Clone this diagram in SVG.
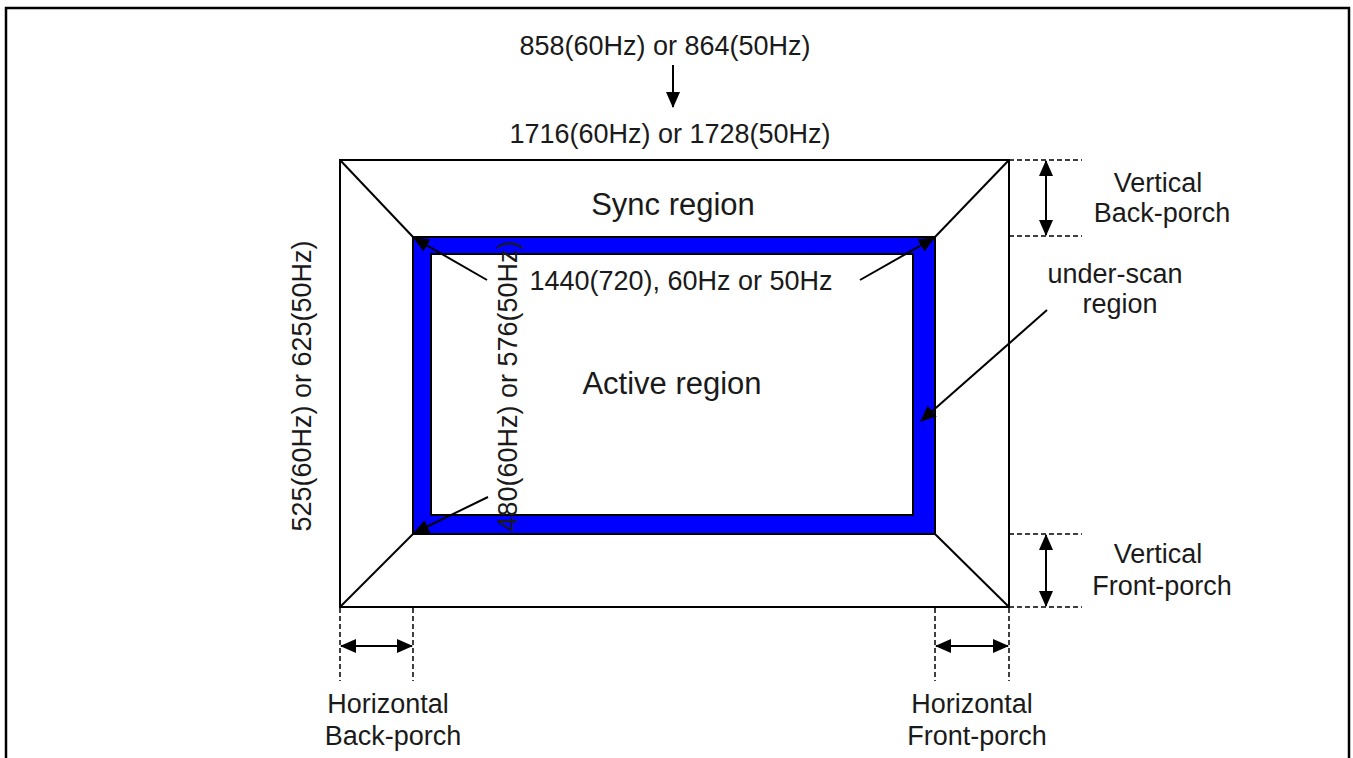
<svg xmlns="http://www.w3.org/2000/svg" width="1353" height="758" viewBox="0 0 1353 758">
<style>
text{font-family:"Liberation Sans",Arial,sans-serif;fill:#1a1a1a;text-anchor:middle}
.lbl{font-size:27px}
.big{font-size:31px}
.ln{stroke:#000;stroke-width:2;fill:none}
.dash{stroke:#000;stroke-width:1.5;stroke-dasharray:5,3;fill:none}
.arr{stroke:#000;stroke-width:2;fill:none;marker-end:url(#ah)}
.dbl{stroke:#000;stroke-width:2;fill:none;marker-start:url(#ah);marker-end:url(#ah)}
</style>
<defs>
<marker id="ah" viewBox="0 0 16 14" refX="15" refY="7" markerWidth="16" markerHeight="14" markerUnits="userSpaceOnUse" orient="auto-start-reverse">
<path d="M0,0 L16,7 L0,14 z" fill="#000"/>
</marker>
</defs>
<rect width="1353" height="758" fill="#fff"/>
<path d="M6,760 V8 H1349 V760" stroke="#000" stroke-width="2.5" fill="none"/>

<g id="frame">
<rect x="340" y="160" width="669" height="447" fill="#fff" stroke="#000" stroke-width="2"/>
<line class="ln" x1="340" y1="160" x2="413" y2="237"/>
<line class="ln" x1="1009" y1="160" x2="935" y2="237"/>
<line class="ln" x1="340" y1="607" x2="413" y2="534"/>
<line class="ln" x1="1009" y1="607" x2="935" y2="534"/>
</g>

<g id="underscan">
<path d="M413,237 H935 V534 H413 Z M431,254 V515 H913 V254 Z" fill="#0000ff" fill-rule="evenodd" stroke="#000" stroke-width="2"/>
</g>

<g id="dimension-lines">
<line class="dash" x1="1009" y1="160" x2="1082" y2="160"/>
<line class="dash" x1="1009" y1="236" x2="1082" y2="236"/>
<line class="dash" x1="1009" y1="534" x2="1082" y2="534"/>
<line class="dash" x1="1009" y1="607" x2="1082" y2="607"/>
<line class="dash" x1="340" y1="608" x2="340" y2="681"/>
<line class="dash" x1="413" y1="608" x2="413" y2="681"/>
<line class="dash" x1="935" y1="608" x2="935" y2="681"/>
<line class="dash" x1="1009" y1="608" x2="1009" y2="681"/>
</g>

<g id="connectors">
<line class="arr" x1="673" y1="65" x2="673" y2="107"/>
<line class="dbl" x1="1046" y1="161" x2="1046" y2="235"/>
<line class="dbl" x1="1046" y1="535" x2="1046" y2="606"/>
<line class="dbl" x1="341" y1="646" x2="412" y2="646"/>
<line class="dbl" x1="936" y1="646" x2="1008" y2="646"/>
<line class="arr" x1="487" y1="280" x2="414" y2="238"/>
<line class="arr" x1="860" y1="280" x2="934" y2="238"/>
<line class="arr" x1="488" y1="497" x2="414" y2="533"/>
<line class="arr" x1="1047" y1="310" x2="921" y2="421"/>
</g>

<g id="labels">
<text class="lbl" x="665" y="55">858(60Hz) or 864(50Hz)</text>
<text class="lbl" x="670" y="143" font-size="26">1716(60Hz) or 1728(50Hz)</text>
<text class="big" x="673" y="215">Sync region</text>
<text class="lbl" x="681" y="290">1440(720), 60Hz or 50Hz</text>
<text class="big" x="672" y="394">Active region</text>
<text class="lbl" x="1158" y="192">Vertical</text>
<text class="lbl" x="1162" y="222">Back-porch</text>
<text class="lbl" x="1115" y="283">under-scan</text>
<text class="lbl" x="1120" y="313">region</text>
<text class="lbl" x="1158" y="563">Vertical</text>
<text class="lbl" x="1162" y="595">Front-porch</text>
<text class="lbl" x="388" y="713">Horizontal</text>
<text class="lbl" x="393" y="745">Back-porch</text>
<text class="lbl" x="972" y="713">Horizontal</text>
<text class="lbl" x="977" y="745">Front-porch</text>
<text class="lbl" transform="translate(311,386) rotate(-90)">525(60Hz) or 625(50Hz)</text>
<text class="lbl" transform="translate(517,386) rotate(-90)">480(60Hz) or 576(50Hz)</text>
</g>
</svg>
